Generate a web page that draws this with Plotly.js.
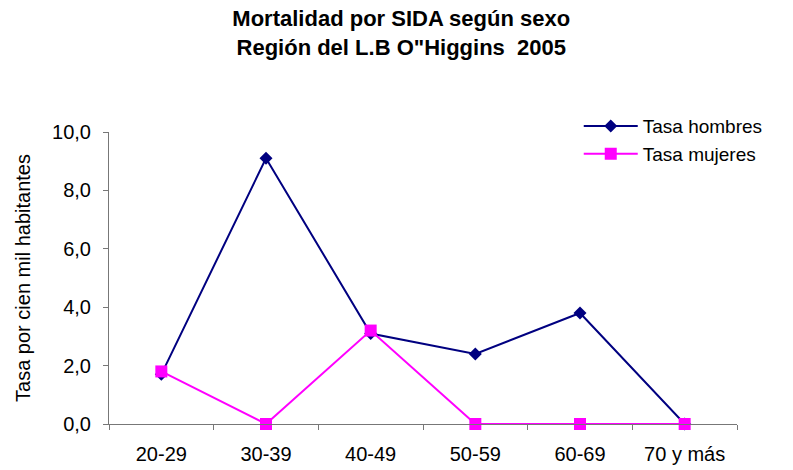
<!DOCTYPE html>
<html>
<head>
<meta charset="utf-8">
<script src="https://cdn.plot.ly/plotly-3.0.1.min.js"></script>
<style>html,body{margin:0;padding:0;background:#fff;}#chart{width:793px;height:470px;}</style>
</head>
<body>
<div id="chart"></div>
<script>
const categories = ["20-29", "30-39", "40-49", "50-59", "60-69", "70 y más"];
const tasaHombres = [1.7, 9.1, 3.1, 2.4, 3.8, 0.0];
const tasaMujeres = [1.8, 0.0, 3.2, 0.0, 0.0, 0.0];
const yTicks = [0, 2, 4, 6, 8, 10];

const font = "Arial, 'Liberation Sans', sans-serif";

const traces = [
  {
    x: categories, y: tasaHombres, name: "Tasa hombres", type: "scatter", mode: "lines+markers",
    line: {color: "#000080", width: 2},
    marker: {symbol: "diamond", size: 10, color: "#000080"},
    cliponaxis: false
  },
  {
    x: categories, y: tasaMujeres, name: "Tasa mujeres", type: "scatter", mode: "lines+markers",
    line: {color: "#FF00FF", width: 2},
    marker: {symbol: "square", size: 12, color: "#FF00FF"},
    cliponaxis: false
  }
];

const layout = {
  width: 793, height: 470,
  paper_bgcolor: "#fff", plot_bgcolor: "#fff",
  margin: {l: 109, r: 56, t: 132, b: 46},
  separators: ", ",
  font: {family: font, size: 20, color: "#000"},
  title: {
    text: "Mortalidad por SIDA según sexo<br>Región del L.B O\"Higgins\u00a0\u00a02005",
    font: {family: font, size: 22, color: "#000", weight: "bold"},
    x: 0.506, xanchor: "center", y: 0.944, yanchor: "top"
  },
  showlegend: true,
  legend: {
    x: 0.748, y: 1.085, xanchor: "left", yanchor: "top",
    bgcolor: "rgba(0,0,0,0)", font: {size: 19, family: font},
    itemwidth: 54, tracegroupgap: 0
  },
  xaxis: {
    type: "category", range: [-0.5, 5.5],
    showline: true, linecolor: "#777", linewidth: 1,
    ticks: "outside", tickson: "boundaries", ticklen: 5, tickcolor: "#777",
    showgrid: false, zeroline: false,
    ticklabelstandoff: 12,
    tickfont: {size: 20}
  },
  yaxis: {
    range: [0, 10], tickvals: yTicks, tickformat: ".1f",
    showline: true, linecolor: "#777", linewidth: 1,
    ticks: "outside", ticklen: 5, tickcolor: "#777",
    showgrid: false, zeroline: false,
    ticklabelstandoff: 8,
    tickfont: {size: 20},
    title: {text: "Tasa por cien mil habitantes", font: {size: 20}, standoff: 16}
  }
};

Plotly.newPlot("chart", traces, layout, {displayModeBar: false, staticPlot: true});
</script>
</body>
</html>
